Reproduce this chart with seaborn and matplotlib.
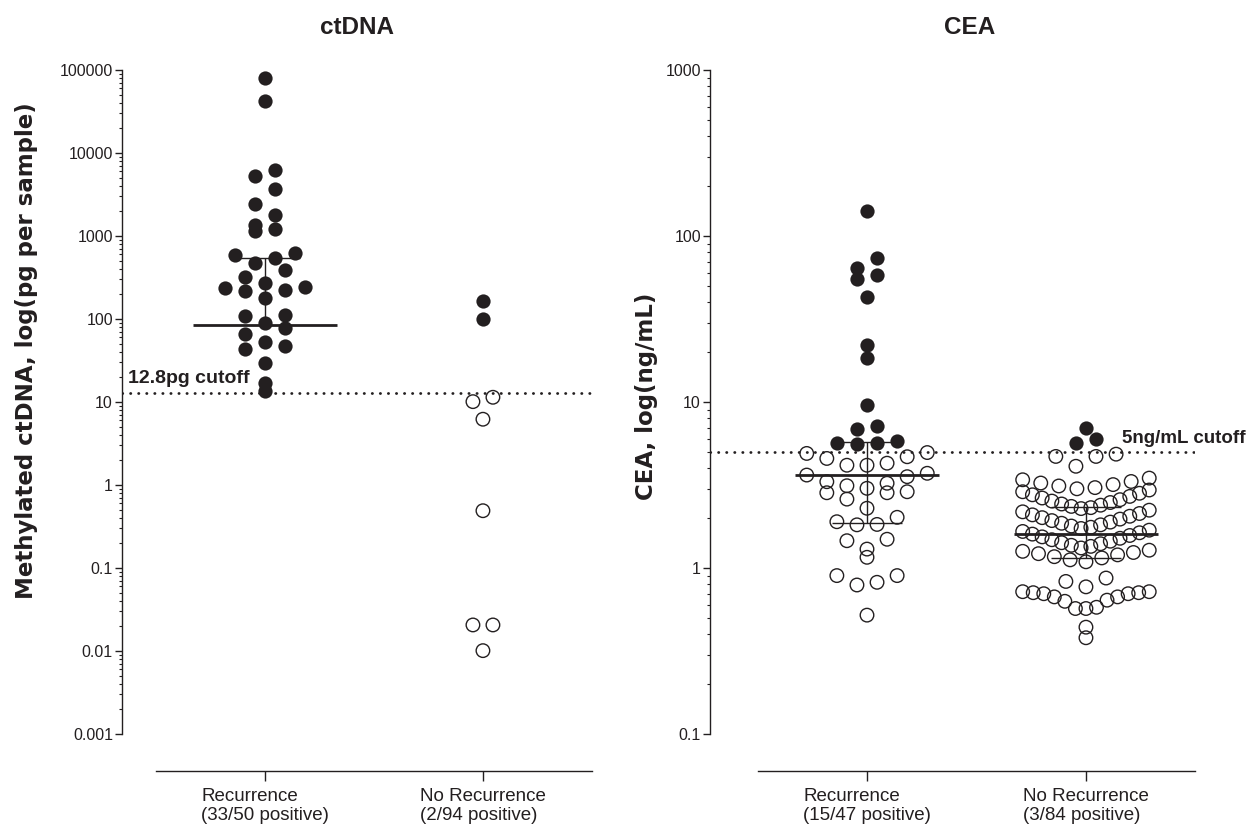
import numpy as np
import pandas as pd
import matplotlib
matplotlib.use('Agg')
import matplotlib.pyplot as plt
import seaborn as sns
from matplotlib.ticker import LogLocator, NullFormatter, FuncFormatter

sns.set_style('ticks')
plt.rcParams['font.family'] = ['Liberation Sans', 'DejaVu Sans']

INK = '#231f20'

# ---- data ----
groups = ['Recurrence', 'No Recurrence']

# ctDNA (pg per sample); filled = above cutoff, open = below
ctdna_rec_pos = [81000, 42000, 6200, 5300, 3700, 2400, 1800, 1350, 1200, 1150,
                 620, 590, 540, 470, 390, 320, 270, 243, 236, 222, 215, 179,
                 112, 108, 90, 78, 66, 53, 47, 44, 29.5, 17, 13.5]
ctdna_rec_neg = []
ctdna_norec_pos = [165, 99]
ctdna_norec_neg = [11.4, 10.1, 6.2, 0.49, 0.0206, 0.0206, 0.0101]
ctdna_labels = ['Recurrence\n(33/50 positive)', 'No Recurrence\n(2/94 positive)']
ctdna_cutoff = 12.8
# median / interquartile range drawn on the plot (nan = not shown)
ctdna_median = [85, np.nan]
ctdna_q1 = [np.nan, np.nan]
ctdna_q3 = [543, np.nan]

# CEA (ng/mL)
cea_rec_pos = [141, 74, 64, 58, 55, 43, 22, 18.3, 9.6, 7.2, 6.9, 5.85, 5.7, 5.65, 5.6]
cea_rec_neg = [4.96, 4.9, 4.68, 4.57, 4.28, 4.16, 4.16, 3.72, 3.63, 3.55, 3.31,
               3.24, 3.13, 3.02, 2.88, 2.84, 2.84, 2.60, 2.29, 2.02, 1.90, 1.83,
               1.82, 1.49, 1.46, 1.30, 1.16, 0.90, 0.90, 0.82, 0.79, 0.52]
cea_norec_pos = [6.95, 5.96, 5.64]
cea_norec_neg = [4.85, 4.7, 4.7, 4.1,
                 3.48, 3.40, 3.32, 3.25, 3.18, 3.12, 3.05, 3.0,
                 2.95, 2.88, 2.82, 2.76, 2.70, 2.64, 2.58, 2.53, 2.48, 2.43, 2.39, 2.35, 2.31, 2.28,
                 2.23, 2.18, 2.13, 2.09, 2.05, 2.01, 1.97, 1.93, 1.89, 1.86, 1.82, 1.79, 1.76, 1.73,
                 1.69, 1.66, 1.63, 1.60, 1.57, 1.54, 1.51, 1.48, 1.45, 1.42, 1.40, 1.37, 1.35, 1.32,
                 1.28, 1.26, 1.24, 1.22, 1.20, 1.17, 1.15, 1.12, 1.09,
                 0.87, 0.83, 0.77,
                 0.72, 0.72, 0.71, 0.71, 0.70, 0.70, 0.67, 0.67, 0.64, 0.63, 0.58, 0.57, 0.57,
                 0.44, 0.38]
cea_labels = ['Recurrence\n(15/47 positive)', 'No Recurrence\n(3/84 positive)']
cea_cutoff = 5
cea_median = [3.63, 1.60]
cea_q1 = [1.87, 1.15]
cea_q3 = [5.77, 2.34]


def swarm_offsets(values, bin_h, bin_c, step_px=20, max_w_px=126, px_per_unit=218):
    # GraphPad-like column scatter: bin on log scale, lowest value in the middle of each row
    logs = np.log10(values)
    bins = np.floor((logs - bin_c) / bin_h)
    offs = np.zeros(len(values))
    for b in np.unique(bins):
        idx = np.where(bins == b)[0]
        idx = idx[np.argsort(logs[idx], kind='stable')]
        n = len(idx)
        step = step_px if n < 2 else min(step_px, max_w_px / (n - 1))
        slots = (np.arange(n) - (n - 1) / 2) * step
        order = np.argsort(np.abs(slots) + 1e-6 * slots, kind='stable')
        offs[idx] = slots[order] / px_per_unit
    return offs


def make_frame(pairs, bin_h, bin_c, max_w_px):
    frames = []
    for gi, (pos, neg) in enumerate(pairs):
        vals = np.array(pos + neg, dtype=float)
        off = swarm_offsets(vals, bin_h, bin_c, max_w_px=max_w_px)
        frames.append(pd.DataFrame({'x': gi + off, 'value': vals,
                                    'filled': [True] * len(pos) + [False] * len(neg)}))
    return pd.concat(frames, ignore_index=True)


def plain_log(v, _):
    if v <= 0:
        return ''
    d = max(0, -int(np.floor(np.log10(v) + 1e-9)))
    return f'{v:.{d}f}'


def draw_panel(ax, df, labels, median, q1, q3, cutoff, ylim, ylabel):
    ax.set_yscale('log')
    sns.scatterplot(data=df[df['filled']], x='x', y='value', ax=ax, color=INK,
                    s=105, linewidth=0, legend=False, zorder=3)
    sns.scatterplot(data=df[~df['filled']], x='x', y='value', ax=ax, facecolor='none',
                    edgecolor=INK, s=95, linewidth=1.0, legend=False, zorder=3)
    for i in range(len(labels)):
        if not np.isnan(median[i]):
            ax.hlines(median[i], i - 0.33, i + 0.33, color=INK, lw=2.0, zorder=4)
        if not np.isnan(q3[i]):
            lo = q1[i] if not np.isnan(q1[i]) else median[i]
            ax.vlines(i, lo, q3[i], color=INK, lw=1.0, zorder=4)
            ax.hlines(q3[i], i - 0.16, i + 0.16, color=INK, lw=1.0, zorder=4)
        if not np.isnan(q1[i]):
            ax.hlines(q1[i], i - 0.16, i + 0.16, color=INK, lw=1.0, zorder=4)
    ax.axhline(cutoff, color=INK, lw=2.0, linestyle=(0, (0.1, 2.8)),
               dash_capstyle='round', zorder=2)
    ax.set_ylim(*ylim)
    ax.yaxis.set_major_locator(LogLocator(base=10, numticks=20))
    ax.yaxis.set_minor_locator(LogLocator(base=10, subs=np.arange(2, 10), numticks=20))
    ax.yaxis.set_major_formatter(FuncFormatter(plain_log))
    ax.yaxis.set_minor_formatter(NullFormatter())
    ax.set_xticks(range(len(labels)))
    ax.set_xticklabels(labels)
    ax.set_xlabel('')
    ax.set_ylabel(ylabel, fontsize=16.5, fontweight='bold', color=INK,
                  family='DejaVu Sans')
    sns.despine(ax=ax)
    ax.spines['bottom'].set_position(('outward', 26.6))
    ax.spines['bottom'].set_bounds(-0.5, 1.5)
    for sp in ['left', 'bottom']:
        ax.spines[sp].set_linewidth(1.0)
        ax.spines[sp].set_color(INK)
    ax.tick_params(axis='y', which='major', length=5, width=1.0, labelsize=11.5,
                   colors=INK, pad=1.5)
    ax.tick_params(axis='y', which='minor', length=2.5, width=0.8, colors=INK)
    ax.tick_params(axis='x', length=7, width=1.0, colors=INK, pad=5, labelsize=13.5)
    for t in ax.get_xticklabels():
        t.set_multialignment('left')
        t.set_linespacing(1.2)


fig = plt.figure(figsize=(12.52, 8.26), dpi=100)
ax1 = fig.add_axes([122 / 1252, 92 / 826, 471 / 1252, 664 / 826])
ax2 = fig.add_axes([710 / 1252, 92 / 826, 485 / 1252, 664 / 826])

ct_df = make_frame([(ctdna_rec_pos, ctdna_rec_neg), (ctdna_norec_pos, ctdna_norec_neg)],
                   bin_h=0.24, bin_c=0.0, max_w_px=110)
cea_df = make_frame([(cea_rec_pos, cea_rec_neg), (cea_norec_pos, cea_norec_neg)],
                    bin_h=0.12, bin_c=0.113, max_w_px=126)

draw_panel(ax1, ct_df, ctdna_labels, ctdna_median, ctdna_q1, ctdna_q3, ctdna_cutoff,
           (1e-3, 1e5), 'Methylated ctDNA, log(pg per sample)')
ax1.set_xlim(-0.656, 1.505)
ax1.yaxis.set_label_coords(-0.178, 0.578)
ax1.text(0.013, 19, '12.8pg cutoff', transform=ax1.get_yaxis_transform(),
         fontsize=14, fontweight='bold', va='center', ha='left', color=INK)

draw_panel(ax2, cea_df, cea_labels, cea_median, cea_q1, cea_q3, cea_cutoff,
           (0.1, 1000), 'CEA, log(ng/mL)')
ax2.set_xlim(-0.717, 1.498)
ax2.yaxis.set_label_coords(-0.107, 0.509)
ax2.text(0.849, 6.0, '5ng/mL cutoff', transform=ax2.get_yaxis_transform(),
         fontsize=13.5, fontweight='bold', va='center', ha='left', color=INK)

fig.text(357 / 1252, 1 - 28 / 826, 'ctDNA', fontsize=17.5, fontweight='bold',
         ha='center', va='center', color=INK)
fig.text(970 / 1252, 1 - 28 / 826, 'CEA', fontsize=17.5, fontweight='bold',
         ha='center', va='center', color=INK)

fig.savefig('out.png', dpi=100)
